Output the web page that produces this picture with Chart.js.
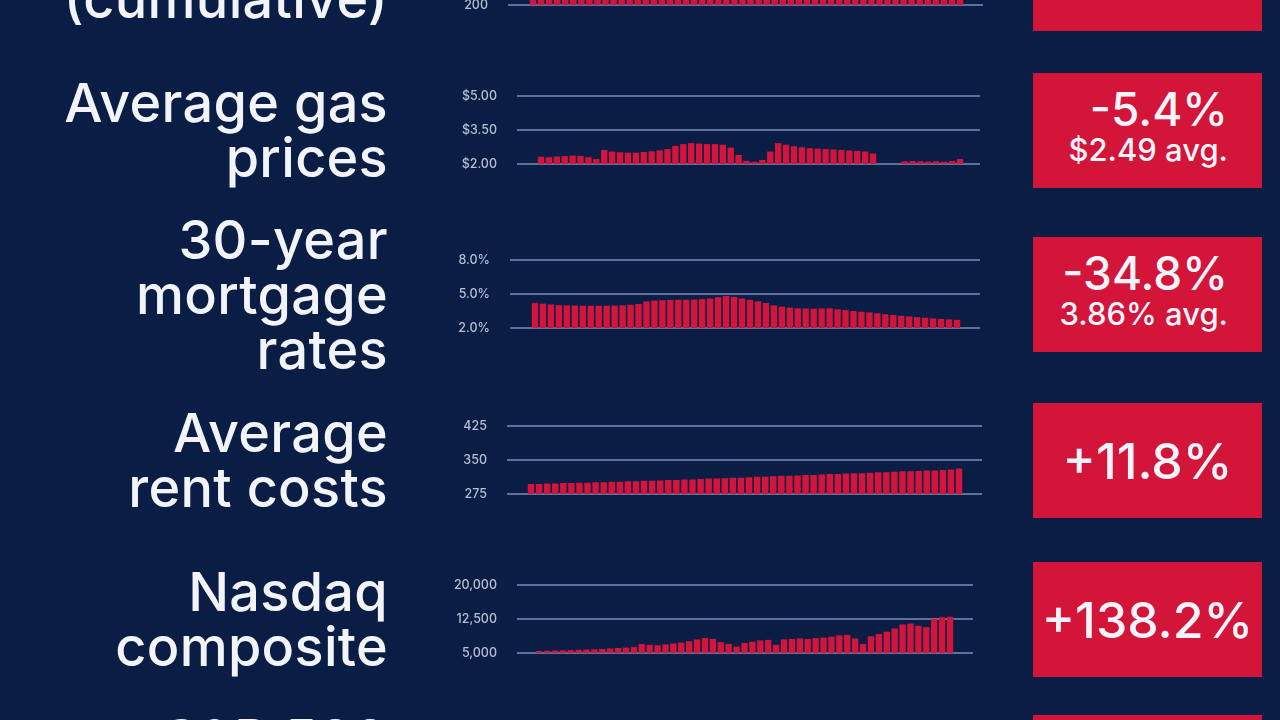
<!DOCTYPE html>
<html>
<head>
<meta charset="utf-8">
<script src="https://cdn.jsdelivr.net/npm/chart.js@4.4.1/dist/chart.umd.min.js"></script>
<style>
  html, body { margin: 0; padding: 0; }
  body {
    width: 1280px; height: 720px; overflow: hidden; position: relative;
    background: #0a1d44; color: #f2f4fa;
    font-family: Inter, "Noto Sans", sans-serif; font-weight: 500;
  }
  .label {
    position: absolute; left: 0; width: 388px; text-align: right;
    font-size: 54px; line-height: 55px; font-weight: 500; transform: translateY(-50%);
    white-space: pre; letter-spacing: 0.3px;
  }
  .box {
    position: absolute; left: 1033px; width: 229px; height: 115px;
    background: #d4153a; display: flex; flex-direction: column;
    box-sizing: border-box;
  }
  .box.two { align-items: flex-end; justify-content: flex-start; padding: 13px 34px 0 0; }
  .box.one { align-items: center; justify-content: center; }
  .box .big { font-size: 46px; line-height: 46px; }
  .box.one .big { font-size: 50px; line-height: 50px; }
  .box .small { font-size: 31px; line-height: 34px; margin-top: 1px; }
  .mini { position: absolute; left: 440px; }
</style>
</head>
<body>
<script>
// --- Row texts ---
const rowLabels = ['Jobs created\n(cumulative)', 'Average gas\nprices', '30-year\nmortgage\nrates',
  'Average\nrent costs', 'Nasdaq\ncomposite', 'S&P 500\nindex'];
const rowChange = ['', '-5.4%', '-34.8%', '+11.8%', '+138.2%', ''];
const rowAvg = ['', '$2.49 avg.', '3.86% avg.', '', '', ''];

// --- Series values (one bar per period) ---
const jobsValues = [330, 332, 334, 335, 337, 338, 340, 341, 343, 344, 346, 347, 349, 350, 352, 353,
  355, 356, 357, 359, 360, 361, 363, 364, 365, 367, 368, 369, 370, 372, 373, 374, 375, 376, 377,
  378, 379, 380, 381, 382, 383, 384, 385, 386, 387, 388, 389, 390, 391, 392, 392, 393, 394, 395];
const gasValues = [2.32, 2.30, 2.33, 2.35, 2.37, 2.36, 2.30, 2.22, 2.62, 2.55,
  2.52, 2.50, 2.50, 2.53, 2.56, 2.60, 2.66, 2.80, 2.88, 2.92,
  2.90, 2.88, 2.88, 2.85, 2.72, 2.40, 2.14, 2.10, 2.18, 2.55,
  2.92, 2.85, 2.78, 2.74, 2.70, 2.68, 2.66, 2.64, 2.62, 2.60,
  2.58, 2.55, 2.46, null, null, null, 2.12, 2.13, 2.12, 2.11,
  2.12, 2.10, 2.13, 2.22];
const mortgageValues = [4.20, 4.15, 4.08, 4.02, 4.00, 3.98, 3.97, 3.96, 3.96, 3.97,
  3.98, 4.00, 4.05, 4.12, 4.35, 4.42, 4.45, 4.48, 4.50, 4.50,
  4.52, 4.55, 4.60, 4.72, 4.82, 4.75, 4.60, 4.48, 4.35, 4.20,
  4.00, 3.88, 3.80, 3.74, 3.72, 3.70, 3.72, 3.74, 3.65, 3.58,
  3.50, 3.44, 3.38, 3.30, 3.22, 3.15, 3.08, 3.02, 2.96, 2.90,
  2.85, 2.80, 2.76, 2.72];
const rentValues = [297, 297, 298, 298, 299, 299, 300, 300, 301, 301,
  302, 302, 303, 303, 304, 304, 305, 306, 306, 307,
  307, 308, 309, 309, 310, 311, 311, 312, 313, 313,
  314, 315, 315, 316, 317, 317, 318, 319, 319, 320,
  321, 321, 322, 323, 323, 324, 325, 325, 326, 327,
  327, 328, 329, 331];
const nasdaqValues = [5450, 5500, 5550, 5600, 5650, 5700, 5750, 5800, 5900, 6000,
  6100, 6200, 6300, 7000, 6800, 6700, 6900, 7100, 7300, 7600,
  8000, 8300, 8100, 7400, 7000, 6400, 7200, 7500, 7800, 7900,
  6800, 8000, 8100, 8200, 8100, 8300, 8400, 8600, 8900, 9000,
  8200, 7000, 8700, 9200, 9700, 10400, 11300, 11500, 11000, 10700,
  12500, 12900, 13000];

// --- Tick values and labels (bottom to top) ---
const jobsTicks = [200, 300, 400];
const jobsTickLabels = ['200', '300', '400'];
const gasTicks = [2, 3.5, 5];
const gasTickLabels = ['$2.00', '$3.50', '$5.00'];
const mortgageTicks = [2, 5, 8];
const mortgageTickLabels = ['2.0%', '5.0%', '8.0%'];
const rentTicks = [275, 350, 425];
const rentTickLabels = ['275', '350', '425'];
const nasdaqTicks = [5000, 12500, 20000];
const nasdaqTickLabels = ['5,000', '12,500', '20,000'];

// --- Layout ---
const rowCenters = [-29, 130, 294, 460, 619, 766];
const boxTops = [-84, 73, 237, 403, 562, 715];

rowLabels.forEach((txt, i) => {
  const el = document.createElement('div');
  el.className = 'label';
  el.style.top = rowCenters[i] + 'px';
  el.textContent = txt;
  document.body.appendChild(el);

  const box = document.createElement('div');
  box.className = 'box ' + (rowAvg[i] ? 'two' : 'one');
  box.style.top = boxTops[i] + 'px';
  if (rowChange[i]) {
    const b = document.createElement('div');
    b.className = 'big';
    b.textContent = rowChange[i];
    box.appendChild(b);
  }
  if (rowAvg[i]) {
    const s = document.createElement('div');
    s.className = 'small';
    s.textContent = rowAvg[i];
    box.appendChild(s);
  }
  document.body.appendChild(box);
});

const charts = [
  { values: jobsValues, ticks: jobsTicks, labels: jobsTickLabels, gridTop: -63, left: 508, right: 983, first: 533, last: 960 },
  { values: gasValues, ticks: gasTicks, labels: gasTickLabels, gridTop: 96, left: 517, right: 980, first: 541, last: 960 },
  { values: mortgageValues, ticks: mortgageTicks, labels: mortgageTickLabels, gridTop: 260, left: 510, right: 980, first: 535, last: 957 },
  { values: rentValues, ticks: rentTicks, labels: rentTickLabels, gridTop: 426, left: 507, right: 982, first: 531, last: 959 },
  { values: nasdaqValues, ticks: nasdaqTicks, labels: nasdaqTickLabels, gridTop: 585, left: 517, right: 973, first: 539, last: 950 }
];

const canvasLeft = 440;
const pad = 10;
const gridStep = 34;

charts.forEach((c) => {
  const n = c.values.length;
  const pitch = (c.last - c.first) / (n - 1);
  const wrap = document.createElement('div');
  wrap.className = 'mini';
  wrap.style.top = (c.gridTop - pad) + 'px';
  wrap.style.width = (c.right - canvasLeft) + 'px';
  wrap.style.height = (gridStep * 2 + pad * 2) + 'px';
  const cv = document.createElement('canvas');
  wrap.appendChild(cv);
  document.body.appendChild(wrap);

  new Chart(cv.getContext('2d'), {
    type: 'bar',
    data: {
      datasets: [{
        data: c.values.map((v, i) => ({ x: i, y: v })),
        backgroundColor: '#d3143c',
        barPercentage: 0.8,
        categoryPercentage: 1
      }]
    },
    options: {
      responsive: true,
      maintainAspectRatio: false,
      animation: false,
      layout: { padding: { top: pad, bottom: pad, left: 0, right: 0 } },
      plugins: { legend: { display: false }, tooltip: { enabled: false } },
      scales: {
        x: {
          type: 'linear', display: false, offset: false,
          min: -(c.first - c.left) / pitch,
          max: (n - 1) + (c.right - c.last) / pitch
        },
        y: {
          min: c.ticks[0], max: c.ticks[c.ticks.length - 1],
          afterBuildTicks: (s) => { s.ticks = c.ticks.map(v => ({ value: v })); },
          afterFit: (s) => {
            s.width = c.left - canvasLeft;
            s.paddingTop = 0;
            s.paddingBottom = 0;
          },
          border: { display: false },
          grid: { color: '#5d719a', lineWidth: 2, drawTicks: true, tickLength: 20, tickColor: 'rgba(0,0,0,0)' },
          ticks: {
            padding: 0, color: '#b6bfd2',
            font: { family: 'Inter', size: 12.5, weight: '500' },
            callback: (v, i) => c.labels[i]
          }
        }
      }
    }
  });
});
</script>
</body>
</html>
